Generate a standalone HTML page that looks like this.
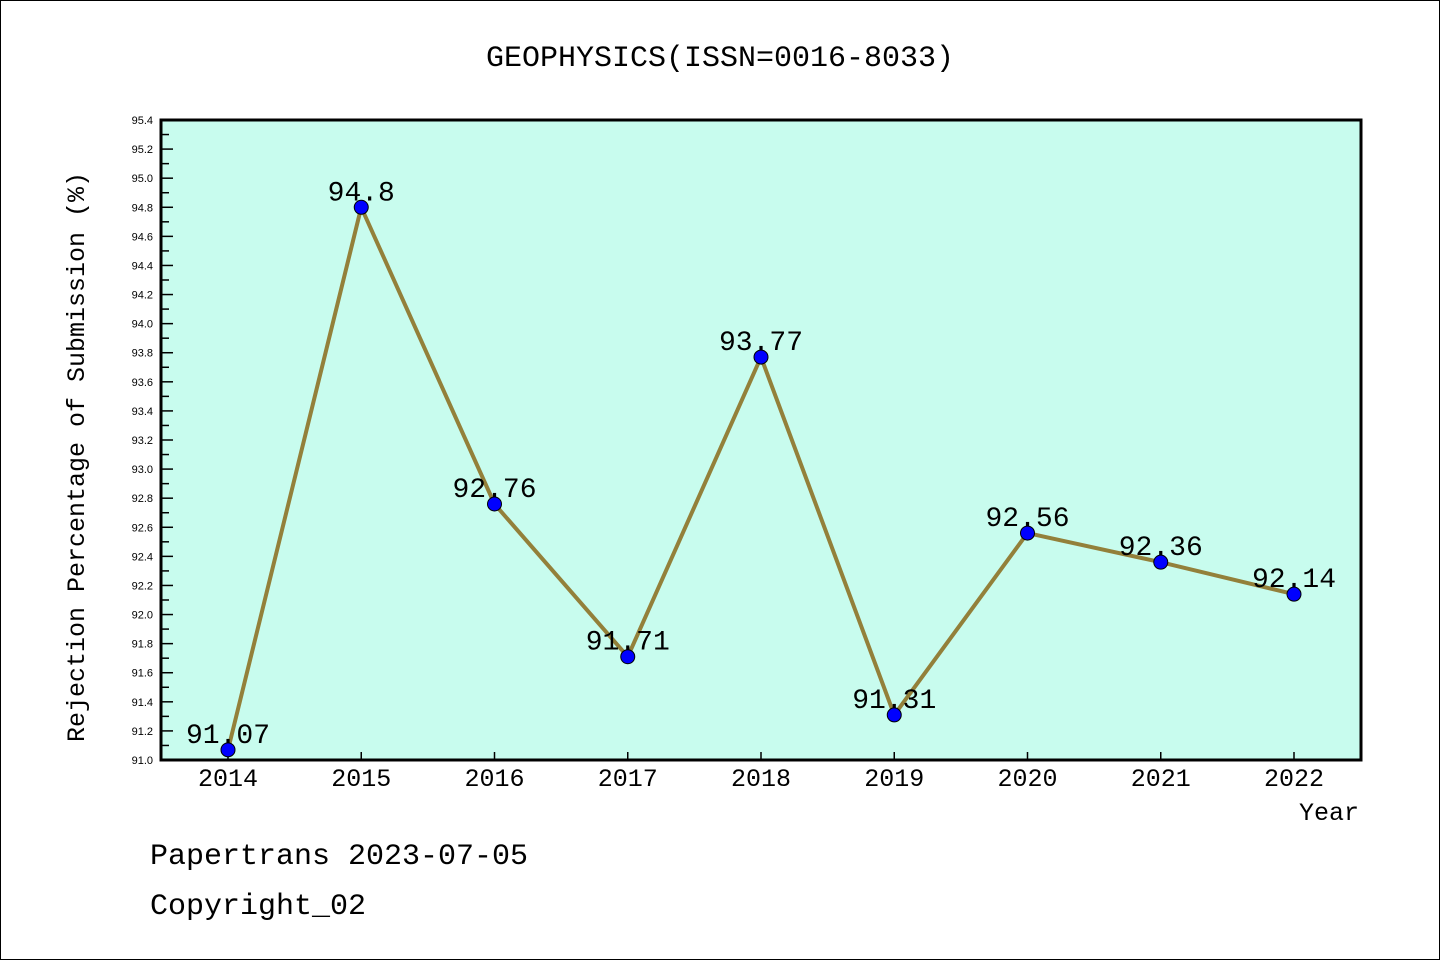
<!DOCTYPE html>
<html><head><meta charset="utf-8"><style>
html,body{margin:0;padding:0;background:#fff;}
svg{display:block;font-family:"Liberation Mono","Noto Sans CJK SC",monospace;}
</style></head><body>
<svg id="chart" width="1440" height="960" xmlns="http://www.w3.org/2000/svg">
<rect x="0.5" y="0.5" width="1439" height="959" fill="#fff" stroke="#000"/>
<text x="720" y="66" font-size="30" text-anchor="middle">GEOPHYSICS(ISSN=0016-8033)</text>
<rect x="161" y="120" width="1200" height="640" fill="#c8fcee"/>
<g id="ticks"></g>
<g id="marks"></g>
<rect x="161" y="120" width="1200" height="640" fill="none" stroke="#000" stroke-width="3"/>
<text transform="translate(84,457) rotate(-90)" font-size="25" text-anchor="middle">Rejection Percentage of Submission (%)</text>
<text x="1359" y="820" font-size="25" text-anchor="end">Year</text>
<text x="150" y="864" font-size="30">Papertrans 2023-07-05</text>
<text x="150" y="914" font-size="30">Copyright_02</text>
</svg>
<script>
const years = ["2014","2015","2016","2017","2018","2019","2020","2021","2022"];
const values = [91.07,94.8,92.76,91.71,93.77,91.31,92.56,92.36,92.14];
const yTicks = ["91.0","91.2","91.4","91.6","91.8","92.0","92.2","92.4","92.6","92.8","93.0","93.2","93.4","93.6","93.8","94.0","94.2","94.4","94.6","94.8","95.0","95.2","95.4"];
const NS="http://www.w3.org/2000/svg";
const yMin=91.0,yMax=95.4,plotTop=120,plotBot=760;
function yS(v){return plotBot-(v-yMin)/(yMax-yMin)*(plotBot-plotTop);}
function xS(i){return 228+i*133.25;}
function mk(t,a,p){const e=document.createElementNS(NS,t);for(const k in a)e.setAttribute(k,a[k]);p.appendChild(e);return e;}
const tg=document.getElementById('ticks'),mg=document.getElementById('marks');
yTicks.forEach(function(s){
  const v=parseFloat(s),y=yS(v);
  const t=mk('line',{x1:161,x2:173,y1:y,y2:y,stroke:'#000','stroke-width':1.5},tg);
  
  
  if(v+0.1<yMax){
    const m=mk('line',{x1:161,x2:169,y1:yS(v+0.1),y2:yS(v+0.1),stroke:'#000','stroke-width':1.5},tg);
    
    
  }
  const l=mk('text',{x:153,y:y+4,'font-size':11,'text-anchor':'end','font-family':'Liberation Sans, sans-serif'},tg);
  l.textContent=s;
  
  
});
years.forEach(function(yr,i){
  const x=xS(i);
  const t=mk('line',{x1:x,x2:x,y1:plotBot,y2:plotBot-8,stroke:'#000','stroke-width':1.5},tg);
  
  
  const l=mk('text',{x:x,y:786,'font-size':25,'text-anchor':'middle'},tg);
  l.textContent=yr;
  
  
});
const pts=values.map(function(v,i){return xS(i)+','+yS(v);}).join(' ');
const pl=mk('polyline',{points:pts,fill:'none',stroke:'#93803a','stroke-width':4,'stroke-linejoin':'round'},mg);


values.forEach(function(v,i){
  const c=mk('circle',{cx:xS(i),cy:yS(v),r:7,fill:'#0000ff',stroke:'#000','stroke-width':1},mg);
  
  
  const l=mk('text',{x:xS(i),y:yS(v)-7,'font-size':28,'text-anchor':'middle'},mg);
  l.textContent=String(v);
  
  
});
</script>
</body></html>
